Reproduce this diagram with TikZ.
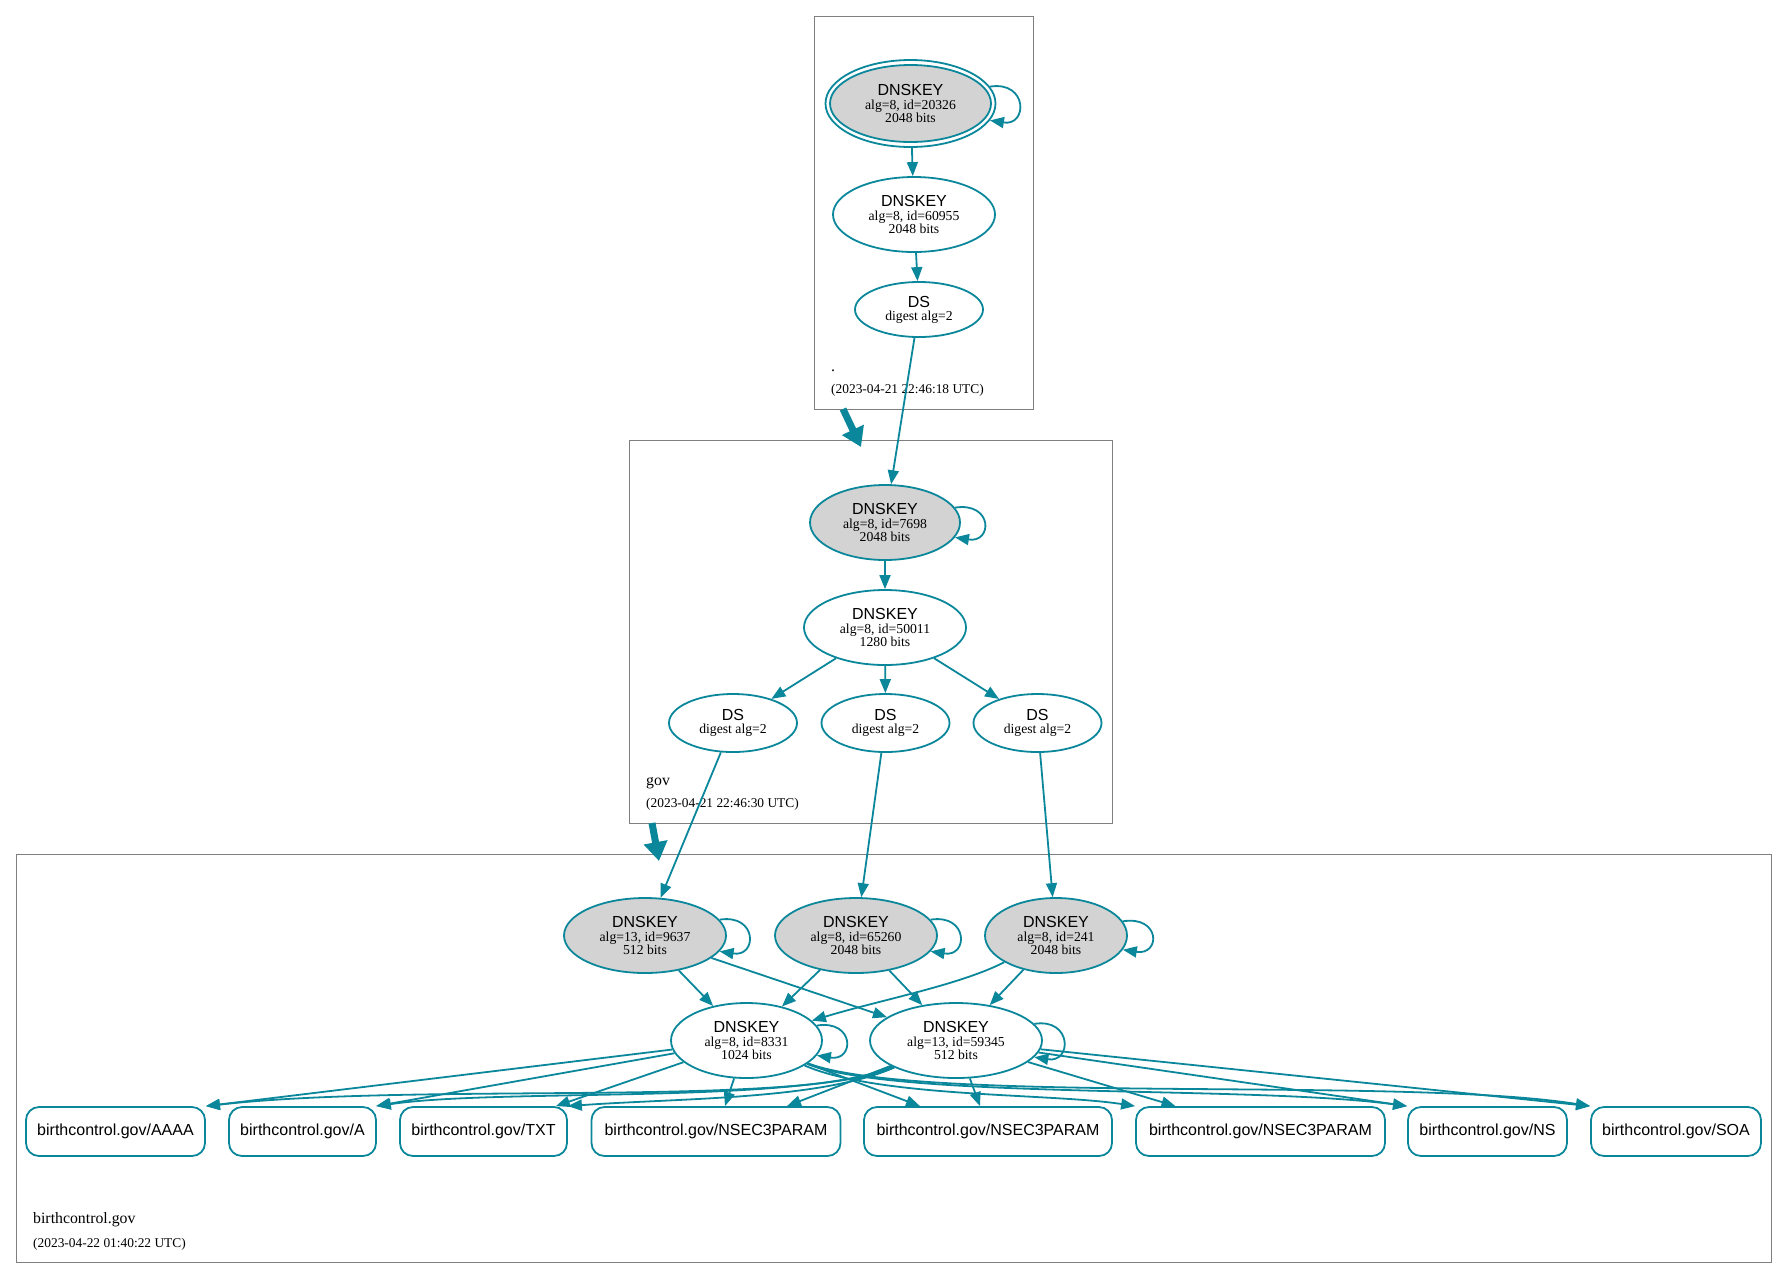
\documentclass[tikz,border=0pt]{standalone}
\usepackage{fontspec}
\setmainfont{Liberation Serif}
\setsansfont{Liberation Sans}
\usetikzlibrary{shapes.geometric,arrows.meta}
\definecolor{dv}{HTML}{0A879A}
\definecolor{kskgray}{HTML}{D3D3D3}
\definecolor{clu}{HTML}{7F7F7F}
\newcommand\hdfont{\sffamily\fontsize{16}{16}\selectfont}
\newcommand\dtfont{\rmfamily\fontsize{13.7}{13.6}\selectfont}
\newcommand\dsfont{\rmfamily\fontsize{13.7}{13}\selectfont}
\newcommand\lblfont{\rmfamily\fontsize{15.8}{16}\selectfont}
\newcommand\tsfont{\rmfamily\fontsize{13.4}{14}\selectfont}
\newcommand\selfloop[1]{\draw[edge] (#1.12) .. controls +(38,-6) and +(38,6) .. (#1.-12);}
\begin{document}
\begin{tikzpicture}[x=1pt,y=-1pt,
  key/.style={ellipse, draw=dv, line width=1.8pt, inner sep=0pt, align=center, font=\dtfont},
  kskfill/.style={key, fill=kskgray},
  dsnode/.style={key, font=\dsfont, minimum width=128pt, minimum height=56pt},
  rec/.style={draw=dv, line width=1.8pt, rounded corners=13pt, minimum height=49pt, inner sep=0pt, font=\hdfont},
  clusterbox/.style={draw=clu, line width=1.3pt, inner sep=0pt, anchor=north west},
  edge/.style={draw=dv, line width=1.8pt, -{Triangle[length=14pt,width=11pt]}},
  bigedge/.style={draw=dv, line width=7pt, -{Triangle[length=19pt,width=23pt]}},
  lbl/.style={anchor=base west, inner sep=0pt, font=\lblfont},
  ts/.style={anchor=base west, inner sep=0pt, font=\tsfont},
]
\useasboundingbox (0,0) rectangle (1788,1278);

% clusters
\node[clusterbox, minimum width=219pt, minimum height=393pt] (ctop) at (814,16) {};
\node[clusterbox, minimum width=483pt, minimum height=383pt] (cgov) at (629,440) {};
\node[clusterbox, minimum width=1755pt, minimum height=408pt] (cbc) at (16,854) {};

\node[lbl] (ltop) at (831,371) {.};
\node[ts] (tstop) at (831,393) {(2023-04-21 22:46:18 UTC)};
\node[lbl] (lgov) at (646,785) {gov};
\node[ts] (tsgov) at (646,807) {(2023-04-21 22:46:30 UTC)};
\node[lbl] (lbc) at (33,1223) {birthcontrol.gov};
\node[ts] (tsbc) at (33,1247) {(2023-04-22 01:40:22 UTC)};

% root zone
\node[kskfill, minimum width=161pt, minimum height=77pt] (k20326) at (910.5,103.5) {{\hdfont DNSKEY}\\alg=8, id=20326\\2048 bits};
\node[key, minimum width=170pt, minimum height=87pt] (k20326o) at (910.5,103.5) {};
\node[key, minimum width=162pt, minimum height=75pt] (k60955) at (914,214.5) {{\hdfont DNSKEY}\\alg=8, id=60955\\2048 bits};
\node[dsnode, minimum height=55pt] (ds0) at (919,309.5) {{\hdfont DS}\\digest alg=2};

% gov zone
\node[kskfill, minimum width=150pt, minimum height=75pt] (k7698) at (885,522.5) {{\hdfont DNSKEY}\\alg=8, id=7698\\2048 bits};
\node[key, minimum width=162pt, minimum height=75pt] (k50011) at (885,627.5) {{\hdfont DNSKEY}\\alg=8, id=50011\\1280 bits};
\node[dsnode, minimum height=58pt] (dsg1) at (733,723) {{\hdfont DS}\\digest alg=2};
\node[dsnode, minimum height=58pt] (dsg2) at (885.5,723) {{\hdfont DS}\\digest alg=2};
\node[dsnode, minimum height=58pt] (dsg3) at (1037.5,723) {{\hdfont DS}\\digest alg=2};

% birthcontrol.gov zone
\node[kskfill, minimum width=162pt, minimum height=75pt] (k9637) at (645,935.5) {{\hdfont DNSKEY}\\alg=13, id=9637\\512 bits};
\node[kskfill, minimum width=162pt, minimum height=75pt] (k65260) at (856,935.5) {{\hdfont DNSKEY}\\alg=8, id=65260\\2048 bits};
\node[kskfill, minimum width=142pt, minimum height=75pt] (k241) at (1056,935.5) {{\hdfont DNSKEY}\\alg=8, id=241\\2048 bits};
\node[key, minimum width=151pt, minimum height=75pt] (z8331) at (746.5,1040.5) {{\hdfont DNSKEY}\\alg=8, id=8331\\1024 bits};
\node[key, minimum width=172pt, minimum height=75pt] (z59345) at (956,1040.5) {{\hdfont DNSKEY}\\alg=13, id=59345\\512 bits};

\node[rec, minimum width=179pt] (aaaa) at (115.5,1131.5) {birthcontrol.gov/AAAA};
\node[rec, minimum width=147pt] (a) at (302.5,1131.5) {birthcontrol.gov/A};
\node[rec, minimum width=167pt] (txt) at (483.5,1131.5) {birthcontrol.gov/TXT};
\node[rec, minimum width=249pt] (np1) at (716,1131.5) {birthcontrol.gov/NSEC3PARAM};
\node[rec, minimum width=248pt] (np2) at (988,1131.5) {birthcontrol.gov/NSEC3PARAM};
\node[rec, minimum width=249pt] (np3) at (1260.5,1131.5) {birthcontrol.gov/NSEC3PARAM};
\node[rec, minimum width=159pt] (ns) at (1487.5,1131.5) {birthcontrol.gov/NS};
\node[rec, minimum width=170pt] (soa) at (1676,1131.5) {birthcontrol.gov/SOA};

% inter-cluster delegation arrows
\coordinate (big1s) at (843,409);
\coordinate (big1e) at (861,447);
\coordinate (big2s) at (652,823);
\coordinate (big2e) at (659,861);
\draw[bigedge] (big1s) -- (big1e);
\draw[bigedge] (big2s) -- (big2e);

% root edges
\selfloop{k20326o}
\draw[edge] (k20326o) -- (k60955);
\draw[edge] (k60955) -- (ds0);
\draw[edge] (ds0) -- (k7698);

% gov edges
\selfloop{k7698}
\draw[edge] (k7698) -- (k50011);
\draw[edge] (k50011) -- (dsg1);
\draw[edge] (k50011) -- (dsg2);
\draw[edge] (k50011) -- (dsg3);
\draw[edge] (dsg1) -- (k9637);
\draw[edge] (dsg2) -- (k65260);
\draw[edge] (dsg3) -- (k241);

% birthcontrol.gov key edges
\selfloop{k9637}
\selfloop{k65260}
\selfloop{k241}
\selfloop{z8331}
\selfloop{z59345}
\draw[edge] (k9637) -- (z8331);
\draw[edge] (k9637) -- (z59345);
\draw[edge] (k65260) -- (z8331);
\draw[edge] (k65260) -- (z59345);
\draw[edge] (k241) .. controls (960,985) and (880,1000) .. (z8331);
\draw[edge] (k241) -- (z59345);

% ZSK 8331 to records
\draw[edge] (z8331) -- (aaaa.north east);
\draw[edge] (z8331) -- ([xshift=-1pt]a.north east);
\draw[edge] (z8331) -- ([xshift=-12pt]txt.north east);
\draw[edge] (z8331) -- ([xshift=9pt]np1.north);
\draw[edge] (z8331) -- ([xshift=-68pt]np2.north);
\draw[edge] (z8331) .. controls (880,1098) and (1050,1093) .. (np3.north west);
\draw[edge] (z8331) .. controls (900,1100) and (1250,1085) .. (ns.north west);
\draw[edge] (z8331) .. controls (920,1105) and (1400,1076) .. (soa.north west);

% ZSK 59345 to records
\draw[edge] (z59345) .. controls (800,1108) and (420,1082) .. (aaaa.north east);
\draw[edge] (z59345) .. controls (800,1105) and (500,1088) .. (a.north east);
\draw[edge] (z59345) .. controls (820,1100) and (680,1098) .. (txt.north east);
\draw[edge] (z59345) -- ([xshift=71pt]np1.north);
\draw[edge] (z59345) -- ([xshift=-8pt]np2.north);
\draw[edge] (z59345) -- ([xshift=-85pt]np3.north);
\draw[edge] (z59345) -- (ns.north west);
\draw[edge] (z59345) -- (soa.north west);
\end{tikzpicture}
\end{document}
